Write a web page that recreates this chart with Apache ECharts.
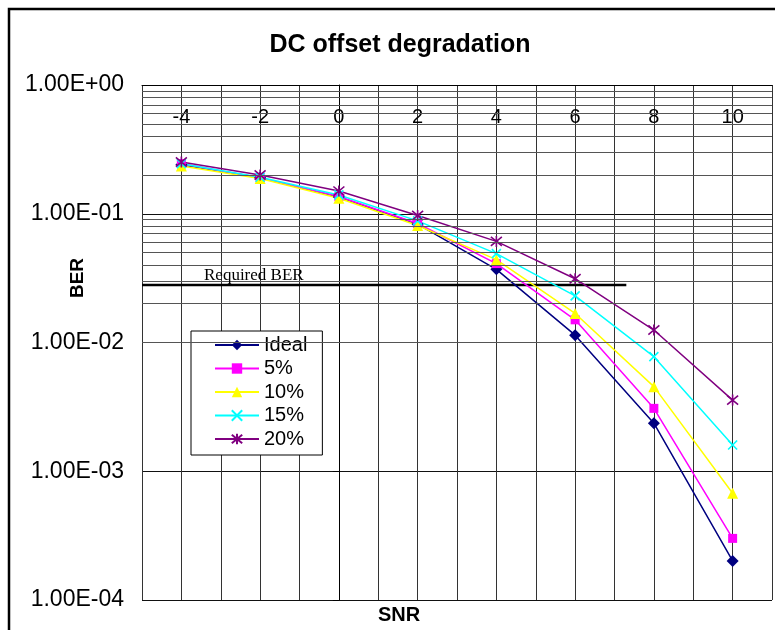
<!DOCTYPE html>
<html>
<head>
<meta charset="utf-8">
<title>DC offset degradation</title>
<script src="https://cdn.jsdelivr.net/npm/echarts@6/dist/echarts.min.js"></script>
<style>
  html, body { margin: 0; padding: 0; background: #fff; }
  #chart { width: 775px; height: 630px; }
</style>
</head>
<body>
<div id="chart"></div>
<script>
// SNR points (dB) and the BER measured for each DC offset level
const SNR = [-4, -2, 0, 2, 4, 6, 8, 10];
const BER_IDEAL = [0.240, 0.190, 0.135, 0.083, 0.037, 0.0114, 0.00236, 0.000201];
const BER_5 = [0.245, 0.190, 0.136, 0.084, 0.041, 0.0150, 0.00308, 0.000301];
const BER_10 = [0.235, 0.188, 0.132, 0.081, 0.044, 0.0168, 0.00454, 0.000675];
const BER_15 = [0.245, 0.192, 0.140, 0.088, 0.049, 0.0230, 0.00776, 0.00160];
const BER_20 = [0.252, 0.200, 0.150, 0.097, 0.061, 0.0313, 0.0125, 0.00357];

// SNR tick labels shown along the axis
const SNR_LABELS = [-4, -2, 0, 2, 4, 6, 8, 10];

// Required BER threshold and the SNR span it is drawn over
const REQUIRED_BER = 0.028;
const REQUIRED_SPAN = [-5, 7.3];

// Log axis decades and the in-between gridline multipliers (2..9)
const DECADES = [1e-4, 1e-3, 1e-2, 1e-1];
const MINOR_STEPS = [2, 3, 4, 5, 6, 7, 8, 9];
const minorLines = [];
DECADES.forEach(d => MINOR_STEPS.forEach(m => minorLines.push({ yAxis: +(d * m).toPrecision(3) })));

function sci(v) {
  const e = Math.round(Math.log10(v));
  const m = v / Math.pow(10, e);
  const sign = e < 0 ? '-' : '+';
  const ex = String(Math.abs(e)).padStart(2, '0');
  return m.toFixed(2) + 'E' + sign + ex;
}

const pairs = arr => SNR.map((x, i) => [x, arr[i]]);

const X_PATH = 'path://M0,0L10,10M10,0L0,10';
const STAR_PATH = 'path://M0,0L10,10M10,0L0,10M5,-1L5,11';

function lineSeries(name, data, color, symbol, size, stroke) {
  return {
    name: name,
    type: 'line',
    data: pairs(data),
    symbol: symbol,
    symbolSize: size,
    showAllSymbol: true,
    lineStyle: { color: color, width: 1.5 },
    itemStyle: stroke
      ? { color: color, borderColor: color, borderWidth: 1.6 }
      : { color: color, borderWidth: 0 },
    emphasis: { disabled: true },
    z: 3
  };
}

const chart = echarts.init(document.getElementById('chart'), null, { renderer: 'canvas' });

const FONT = 'Liberation Sans, Arial, sans-serif';

chart.setOption({
  animation: false,
  backgroundColor: '#fff',
  title: {
    text: 'DC offset degradation',
    left: 400,
    top: 33,
    textAlign: 'center',
    padding: 0,
    textStyle: { fontFamily: FONT, fontSize: 25, fontWeight: 'bold', color: '#000' }
  },
  grid: { left: 142, right: 3, top: 85, bottom: 30, containLabel: false },
  legend: {
    orient: 'vertical',
    left: 191,
    top: 331,
    data: ['Ideal', '5%', '10%', '15%', '20%'],
    itemWidth: 44,
    itemHeight: 13,
    itemGap: 3.5,
    padding: [4, 15, 6, 23],
    borderColor: '#000',
    borderWidth: 1,
    backgroundColor: '#fff',
    selectedMode: false,
    textStyle: { fontFamily: FONT, fontSize: 20, color: '#000', lineHeight: 20 }
  },
  xAxis: {
    type: 'value',
    position: 'top',
    min: -5,
    max: 11,
    interval: 1,
    axisLine: { show: true, lineStyle: { color: '#000', width: 1 } },
    axisTick: { show: false },
    axisLabel: {
      inside: true,
      margin: 22,
      fontFamily: FONT,
      fontSize: 20,
      color: '#000',
      formatter: v => (SNR_LABELS.indexOf(v) >= 0 ? String(v) : '')
    },
    splitLine: { show: true, lineStyle: { color: '#333', width: 1 } }
  },
  yAxis: {
    type: 'log',
    logBase: 10,
    min: 1e-4,
    max: 1,
    interval: 1,
    axisLine: { show: true, lineStyle: { color: '#000', width: 1 } },
    axisTick: { show: true, length: 6, lineStyle: { color: '#000' } },
    axisLabel: { margin: 18, fontFamily: FONT, fontSize: 23, color: '#000', formatter: sci },
    splitLine: { show: true, lineStyle: { color: '#111', width: 1 } }
  },
  graphic: [
    {
      type: 'rect',
      shape: { x: 9, y: 9, width: 900, height: 900 },
      style: { fill: 'none', stroke: '#000', lineWidth: 2.5 },
      silent: true,
      z: 100
    },
    {
      type: 'text',
      x: 78, y: 278,
      rotation: Math.PI / 2,
      style: { text: 'BER', font: 'bold 19px ' + FONT, fill: '#000', align: 'center', verticalAlign: 'middle' }
    },
    {
      type: 'text',
      x: 399, y: 615,
      style: { text: 'SNR', font: 'bold 20px ' + FONT, fill: '#000', align: 'center', verticalAlign: 'middle' }
    },
    {
      type: 'text',
      x: 204, y: 276,
      style: { text: 'Required BER', font: '17px Liberation Serif, Times New Roman, serif', fill: '#000', align: 'left', verticalAlign: 'middle' },
      z: 10
    }
  ],
  series: [
    {
      name: 'gridMinor',
      type: 'line',
      data: [],
      silent: true,
      markLine: {
        silent: true,
        symbol: 'none',
        label: { show: false },
        lineStyle: { color: '#555', width: 1, type: 'solid' },
        emphasis: { disabled: true },
        data: minorLines
      },
      z: 1
    },
    {
      name: 'Required BER',
      type: 'line',
      data: REQUIRED_SPAN.map(x => [x, REQUIRED_BER]),
      symbol: 'none',
      lineStyle: { color: '#000', width: 2.5 },
      emphasis: { disabled: true },
      silent: true,
      z: 2
    },
    lineSeries('Ideal', BER_IDEAL, '#000080', 'diamond', 12, false),
    lineSeries('5%', BER_5, '#FF00FF', 'rect', 9, false),
    lineSeries('10%', BER_10, '#FFFF00', 'triangle', 11, false),
    lineSeries('15%', BER_15, '#00FFFF', X_PATH, 9, true),
    lineSeries('20%', BER_20, '#800080', STAR_PATH, 11, true)
  ]
});
</script>
</body>
</html>
